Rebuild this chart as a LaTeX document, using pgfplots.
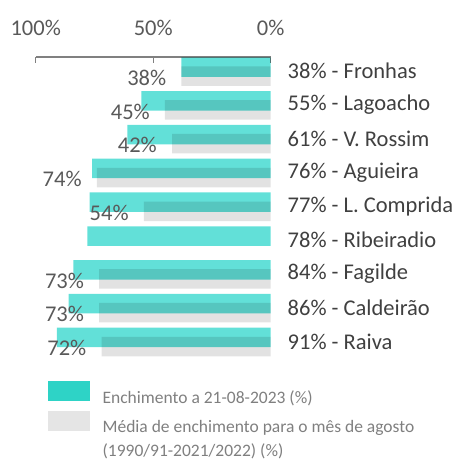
\documentclass[border=0pt]{standalone}
\usepackage{fontspec}
\setmainfont{Carlito}
\usepackage{pgfplots}
\usepackage{pgfplotstable}
\pgfplotsset{compat=1.18}
\definecolor{tealbar}{RGB}{98,224,216}
\definecolor{graybar}{RGB}{226,226,226}
\definecolor{teallegend}{RGB}{46,211,198}
\definecolor{graylegend}{RGB}{229,229,229}
\definecolor{txtdark}{RGB}{64,64,64}
\definecolor{txtgray}{RGB}{89,89,89}
\definecolor{legtxt}{RGB}{127,127,127}
\definecolor{axgray}{RGB}{128,128,128}

\pgfplotstableread{
y x
0 38
-1 55
-2 61
-3 76
-4 77
-5 78
-6 84
-7 86
-8 91
}\current
\pgfplotstableread{
y x
-0.27 38
-1.27 45
-2.27 42
-3.27 74
-4.27 54
-6.27 73
-7.27 73
-8.27 72
}\average

\begin{document}
\begin{tikzpicture}[x=1bp,y=1bp]
\path[use as bounding box] (0,0) rectangle (460,-460);
\begin{axis}[
  at={(35.7bp,-57bp)}, anchor=north west,
  scale only axis, width=235bp, height=300.7bp,
  xmin=0, xmax=100, x dir=reverse,
  ymin=-8.6, ymax=0.296,
  /pgf/number format/assume math mode=true,
  axis x line*=top, axis y line*=right,
  x axis line style={draw=axgray, line width=1.3bp},
  y axis line style={draw=none},
  xtick={0,50,100}, xticklabels={0\%,50\%,100\%},
  tick align=inside, major tick length=6bp,
  xtick style={draw=axgray, line width=1.3bp},
  xticklabel style={font=\fontsize{22.5bp}{27bp}\selectfont, text=txtgray, yshift=18bp},
  ytick={-8.12,-7.12,-6.12,-5.12,-4.12,-3.12,-2.12,-1.12,-0.12},
  yticklabels={91\% - Raiva, 86\% - Caldeirão, 84\% - Fagilde, 78\% - Ribeiradio, 77\% - L. Comprida, 76\% - Aguieira, 61\% - V. Rossim, 55\% - Lagoacho, 38\% - Fronhas},
  ytick style={draw=none},
  yticklabel style={font=\fontsize{22.5bp}{27bp}\selectfont, text=txtdark, anchor=west, xshift=13.5bp},
  legend style={at={(axis description cs:0.0523,-0.0775)}, anchor=north west, draw=none, fill=none,
    inner sep=0pt, nodes={inner sep=0pt},
    font=\fontsize{17.5bp}{21bp}\selectfont, text=legtxt, row sep=6.5bp,
    /tikz/every odd column/.append style={column sep=13bp}},
  legend cell align=left,
]
\addplot[xbar, fill=graybar, draw=none, bar width=19.5bp, forget plot,
  point meta=x,
  nodes near coords={\pgfmathprintnumber{\pgfplotspointmeta}\%},
  every node near coord/.append style={inner sep=0pt, anchor=east, xshift=-15bp, yshift=-1.5bp,
    font=\fontsize{22.5bp}{27bp}\selectfont, text=txtgray}]
  table[x=x, y=y] {\average};
\addplot[xbar, fill=tealbar, draw=none, bar width=19.5bp, forget plot, blend mode=multiply]
  table[x=x, y=y] {\current};
\addlegendimage{legend image code/.code={\fill[teallegend] (0bp,-3bp) rectangle (41bp,16bp);}}
\addlegendentry{Enchimento a 21-08-2023 (\%)}
\addlegendimage{legend image code/.code={\fill[graylegend] (0bp,-3bp) rectangle (41bp,16bp);}}
\addlegendentry{Média de enchimento para o mês de agosto}
\addlegendimage{empty legend}
\addlegendentry{\rule{0pt}{16bp}(1990/91-2021/2022) (\%)}
\end{axis}
\end{tikzpicture}
\end{document}
